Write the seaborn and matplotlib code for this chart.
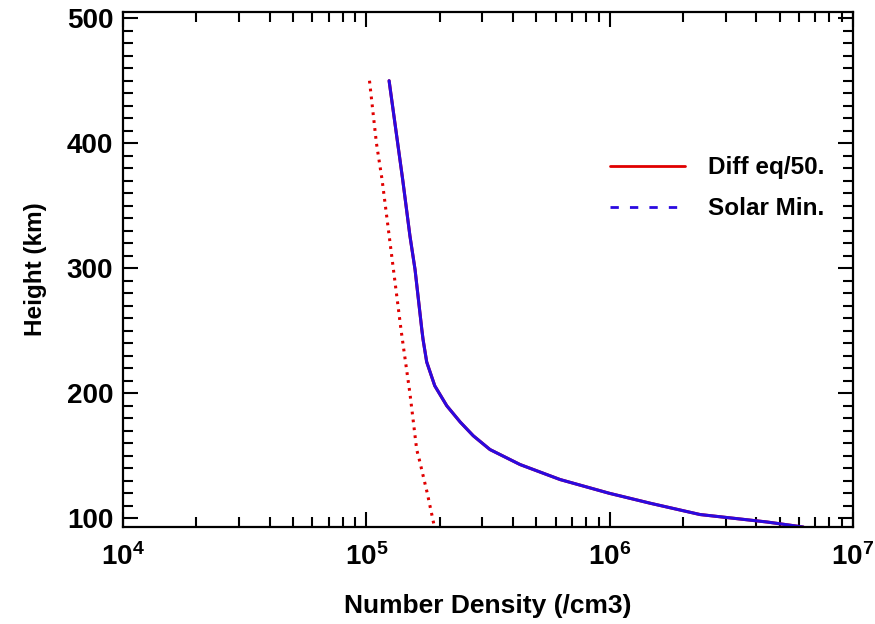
import numpy as np
import matplotlib
matplotlib.use("Agg")
import matplotlib.pyplot as plt
from matplotlib.lines import Line2D
from matplotlib.ticker import LogLocator, MultipleLocator, NullFormatter
import pandas as pd
import seaborn as sns

# values
height_dotted = [450, 400, 371, 300, 250, 200, 155, 147, 120, 94]
density_dotted = [1.03e5, 1.10e5, 1.16e5, 1.29e5, 1.39e5, 1.51e5, 1.61e5, 1.65e5, 1.78e5, 1.90e5]

height_solar = [450, 371, 326, 299, 251, 243, 225, 206, 190, 177, 166, 155,
                143, 131, 120, 112, 103, 97, 93]
density_solar = [1.24e5, 1.41e5, 1.51e5, 1.585e5, 1.69e5, 1.71e5, 1.77e5, 1.91e5,
                 2.14e5, 2.43e5, 2.75e5, 3.22e5, 4.28e5, 6.25e5, 9.96e5, 1.47e6,
                 2.35e6, 4.44e6, 6.24e6]

labels = ["Diff eq/50.", "Solar Min."]
xticks = [1e4, 1e5, 1e6, 1e7]
yticks = [100, 200, 300, 400, 500]

sns.set_style("ticks")
plt.rcParams['font.family'] = ['Liberation Sans', 'DejaVu Sans']
plt.rcParams['font.weight'] = 'bold'
plt.rcParams['mathtext.fontset'] = 'custom'
plt.rcParams['mathtext.rm'] = 'Liberation Sans:bold'
plt.rcParams['mathtext.default'] = 'rm'
plt.rcParams['text.color'] = 'black'
plt.rcParams['axes.labelcolor'] = 'black'
plt.rcParams['axes.edgecolor'] = 'black'
plt.rcParams['xtick.color'] = 'black'
plt.rcParams['ytick.color'] = 'black'

dotted = pd.DataFrame({"height": height_dotted, "density": density_dotted})
solar = pd.DataFrame({"height": height_solar, "density": density_solar})

fig = plt.figure(figsize=(8.75, 6.24), dpi=100)
ax = fig.add_axes([0.1406, 0.1554, 0.8343, 0.8254])

sns.lineplot(data=dotted, x="density", y="height", sort=False, estimator=None,
             color="#e00000", linestyle=(0, (0.9, 1.7)), linewidth=2.2, ax=ax)
sns.lineplot(data=solar, x="density", y="height", sort=False, estimator=None,
             color="#e00000", linewidth=2.2, ax=ax)
sns.lineplot(data=solar, x="density", y="height", sort=False, estimator=None,
             color="#2a0ae0", linewidth=2.2, ax=ax)

ax.set_xscale("log")
ax.set_xlim(1e4, 1e7)
ax.set_ylim(93, 505)
ax.set_xticks(xticks)
ax.set_xticklabels([r"$10^{%d}$" % int(np.log10(t)) for t in xticks])
ax.xaxis.set_minor_locator(LogLocator(base=10, subs=np.arange(2, 10)))
ax.xaxis.set_minor_formatter(NullFormatter())
ax.set_yticks(yticks)
ax.yaxis.set_minor_locator(MultipleLocator(10))

ax.tick_params(which="both", direction="in", top=True, right=True, width=1.5,
               labelsize=20)
ax.tick_params(axis="y", pad=7)
ax.tick_params(axis="x", pad=12)
ax.tick_params(which="major", length=11)
ax.tick_params(which="minor", length=7)
for sp in ax.spines.values():
    sp.set_linewidth(1.6)

ax.set_xlabel("Number Density (/cm3)", fontsize=19, fontweight="bold", labelpad=16)
ax.set_ylabel("Height (km)", fontsize=17.5, fontweight="bold", labelpad=14)

handles = [Line2D([], [], color="#e00000", linewidth=2),
           Line2D([], [], color="#2a0ae0", linewidth=2, linestyle=(0, (3, 4)))]
ax.legend(handles, labels, loc="upper left", bbox_to_anchor=(0.667, 0.72),
          frameon=False, handlelength=3.1, handletextpad=0.95,
          labelspacing=0.75, borderpad=0, borderaxespad=0,
          prop={"weight": "bold", "size": 17.5})

fig.savefig("out.png", dpi=100)
